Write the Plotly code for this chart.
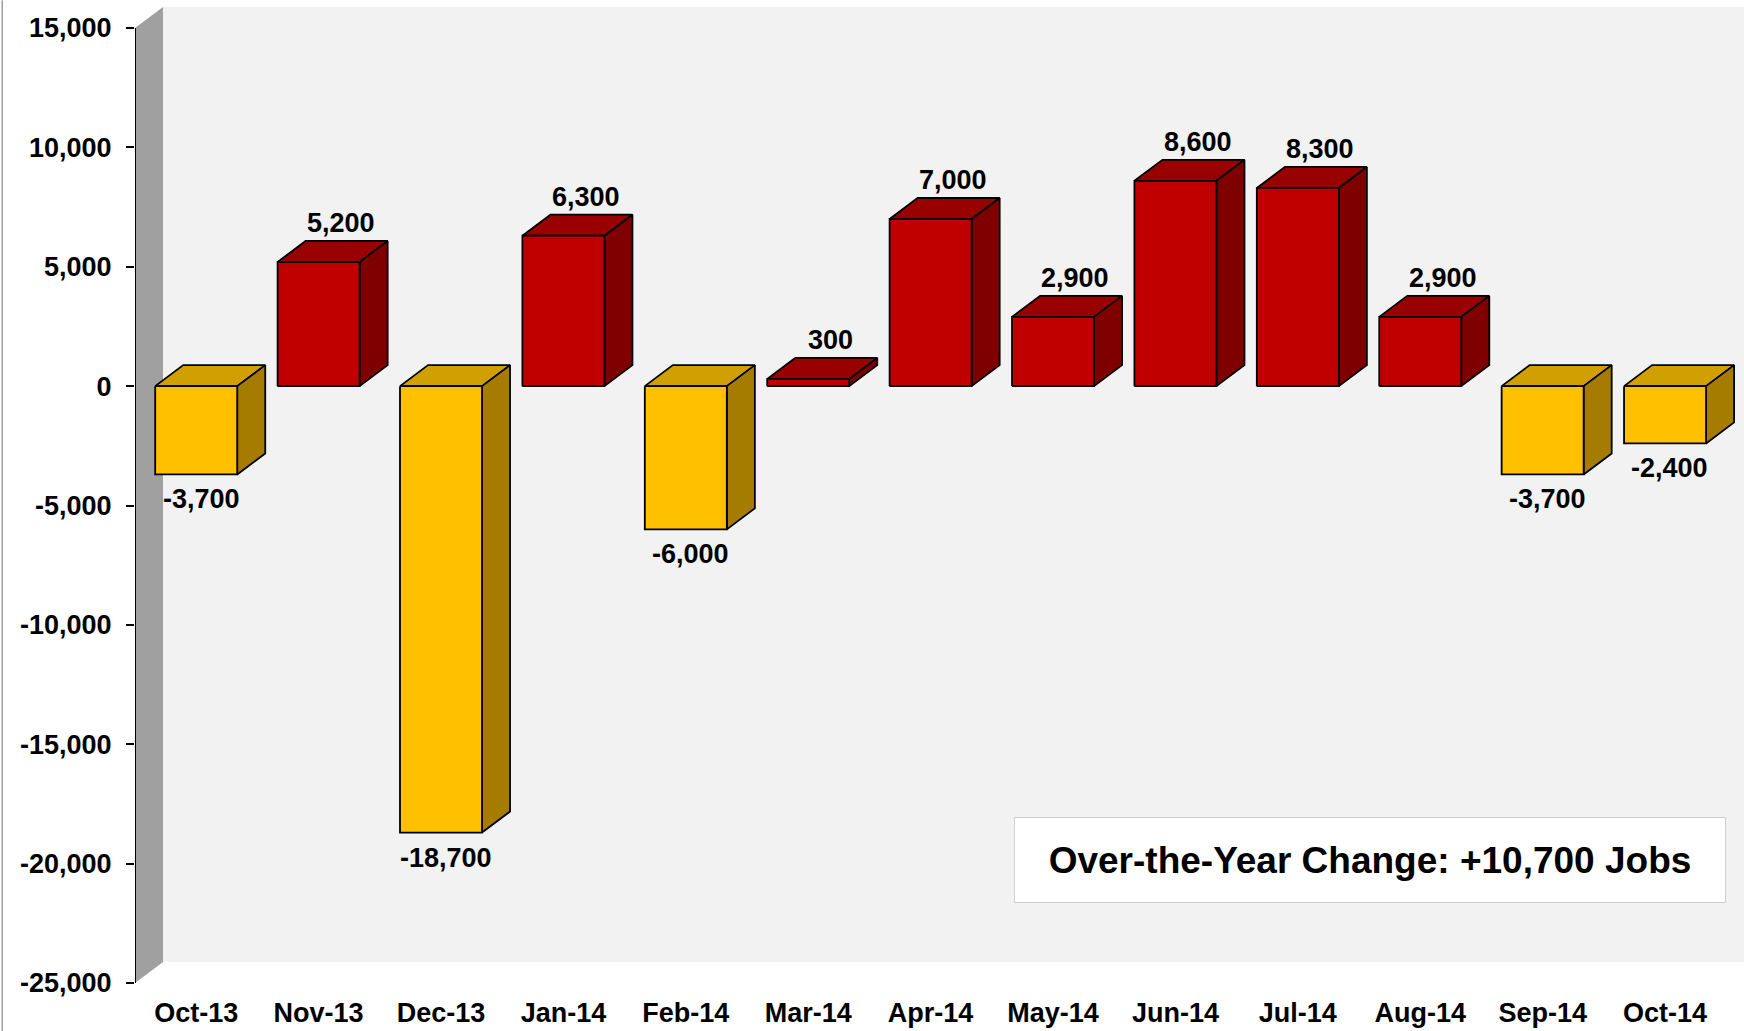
import plotly.graph_objects as go

# Over-the-year monthly job change
months = ['Oct-13', 'Nov-13', 'Dec-13', 'Jan-14', 'Feb-14', 'Mar-14', 'Apr-14',
          'May-14', 'Jun-14', 'Jul-14', 'Aug-14', 'Sep-14', 'Oct-14']
change = [-3700, 5200, -18700, 6300, -6000, 300, 7000,
          2900, 8600, 8300, 2900, -3700, -2400]
y_ticks = [-25000, -20000, -15000, -10000, -5000, 0, 5000, 10000, 15000]
summary_text = 'Over-the-Year Change: +10,700 Jobs'

# fake 3D depth (in axis units)
DX = 0.229
DY = 880
W = 0.67
YMIN, YMAX = -25000, 15000
XMAX = 12.645

RED = dict(front='#C00000', top='#990000', side='#7F0000')
YEL = dict(front='#FFC000', top='#D0A000', side='#A67C00')

FONT = 'Liberation Sans'

fig = go.Figure()

# side wall (left) and back wall
fig.add_trace(go.Scatter(
    x=[-0.5, -0.5, -0.5 + DX, -0.5 + DX, -0.5],
    y=[YMIN, YMAX, YMAX + DY, YMIN + DY, YMIN],
    fill='toself', fillcolor='#A0A0A0', mode='lines', line=dict(width=0),
    hoverinfo='skip', showlegend=False))
fig.add_trace(go.Scatter(
    x=[-0.5 + DX, -0.5 + DX, XMAX, XMAX, -0.5 + DX],
    y=[YMIN + DY, YMAX + DY, YMAX + DY, YMIN + DY, YMIN + DY],
    fill='toself', fillcolor='#F2F2F2', mode='lines', line=dict(width=0),
    hoverinfo='skip', showlegend=False))

# vertical axis line
fig.add_trace(go.Scatter(
    x=[-0.5, -0.5], y=[YMIN, YMAX], mode='lines',
    line=dict(color='black', width=2), hoverinfo='skip', showlegend=False))


def faces(idx):
    top_x, top_y, side_x, side_y, front_x, front_y = [], [], [], [], [], []
    for i in idx:
        v = change[i]
        x0, x1 = i - W / 2, i + W / 2
        t = max(v, 0)
        top_x += [x0, x1, x1 + DX, x0 + DX, x0, None]
        top_y += [t, t, t + DY, t + DY, t, None]
        side_x += [x1, x1, x1 + DX, x1 + DX, x1, None]
        side_y += [0, v, v + DY, DY, 0, None]
        front_x += [x0, x1, x1, x0, x0, None]
        front_y += [0, 0, v, v, 0, None]
    return (top_x, top_y), (side_x, side_y), (front_x, front_y)


for cols, idx in [(RED, [i for i, v in enumerate(change) if v >= 0]),
                  (YEL, [i for i, v in enumerate(change) if v < 0])]:
    top, side, front = faces(idx)
    for (fx, fy), c in [(top, cols['top']), (side, cols['side']), (front, cols['front'])]:
        fig.add_trace(go.Scatter(
            x=fx, y=fy, fill='toself', fillcolor=c, mode='lines',
            line=dict(color='black', width=1.8), hoverinfo='skip', showlegend=False))

# data labels
for i, v in enumerate(change):
    if v >= 0:
        fig.add_annotation(x=i + DX * 0.8, y=v + DY, text=f'<b>{v:,}</b>', showarrow=False,
                           yanchor='bottom', yshift=1,
                           font=dict(family=FONT, size=27, color='black'))
    else:
        fig.add_annotation(x=i + 0.04, y=v, text=f'<b>{v:,}</b>', showarrow=False,
                           yanchor='top', yshift=-8,
                           font=dict(family=FONT, size=27, color='black'))

# summary box
fig.add_annotation(x=0.7676, y=0.126, xref='paper', yref='paper',
                   xanchor='center', yanchor='middle',
                   text=f'<b>{summary_text}</b>', showarrow=False,
                   bgcolor='white', bordercolor='#D0D0D0', borderwidth=1,
                   width=708, height=82,
                   font=dict(family=FONT, size=37, color='black'))

# outer frame line on the left
fig.add_shape(type='line', xref='paper', yref='paper', x0=-0.0825, x1=-0.0825,
              y0=-0.05, y1=1.007, line=dict(color='#A0A0A0', width=1.5))

fig.update_layout(
    width=1744, height=1031,
    margin=dict(l=135, r=0, t=7, b=48),
    paper_bgcolor='white', plot_bgcolor='white',
    font=dict(family=FONT, size=27, color='black'),
    xaxis=dict(range=[-0.5, XMAX], tickvals=list(range(len(months))),
               ticktext=[f'<b>{m}</b>' for m in months],
               showgrid=False, zeroline=False, showline=False, ticks='',
               ticklabelstandoff=11,
               tickfont=dict(family=FONT, size=27)),
    yaxis=dict(range=[YMIN, YMAX + DY], tickvals=y_ticks,
               ticktext=[f'<b>{t:,}</b>' for t in y_ticks],
               showgrid=False, zeroline=False, showline=False,
               ticks='outside', ticklen=8, tickwidth=1.5, tickcolor='black',
               ticklabelstandoff=9,
               tickfont=dict(family=FONT, size=27)),
)

fig.write_html('out.html', config={'displayModeBar': False},
               post_script="document.body.style.margin='0';")
